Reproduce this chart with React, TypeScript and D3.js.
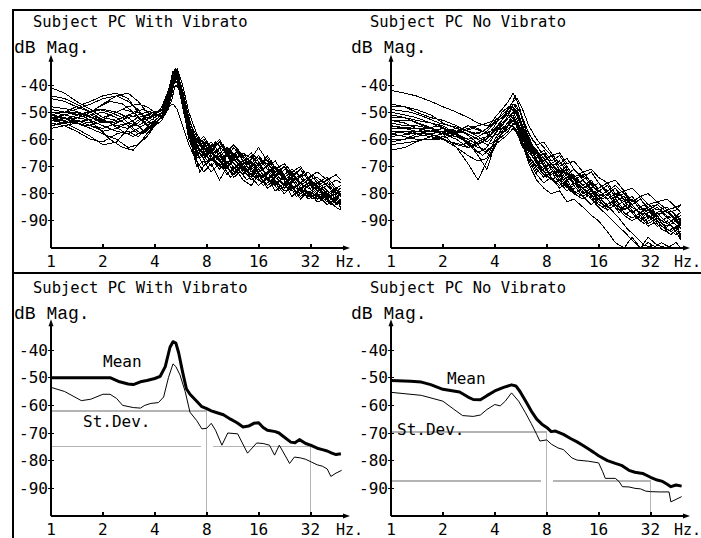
import React from "react";
import * as d3 from "d3";

// ---------- DATA ----------
const yTicks = [-40, -50, -60, -70, -80, -90];
const xTicks = [1, 2, 4, 8, 16, 32];
const titles = ["Subject PC With Vibrato", "Subject PC No Vibrato"];

// frequency grids (Hz) for individual spectra
const F = [1, 1.2, 1.4, 1.7, 2, 2.4, 2.8, 3.2, 3.6, 4, 4.4, 4.8, 5.1, 5.4, 5.8, 6.3, 7, 7.7, 8.5, 9.5, 10.5, 11.5, 13, 14.5, 16, 18, 20, 22.5, 25, 28, 31, 35, 40, 45, 48];
const F2 = [1, 1.3, 1.6, 1.9, 2.2, 2.6, 3, 3.4, 3.8, 4.2, 4.6, 5, 5.25, 5.6, 6, 6.6, 7.3, 8, 9, 10, 11, 12.2, 13.7, 15.2, 17, 19, 21, 23.5, 26.5, 29.5, 33, 37, 42, 46, 48];

// With vibrato: individual spectra (dB)
const vib01 = [-41,-43,-46,-49,-52,-53,-51,-50,-52,-51,-48,-42,-35,-38,-48,-58,-62,-60,-64,-61,-66,-63,-68,-65,-70,-67,-72,-70,-74,-71,-75,-74,-77,-75,-76];
const vib02 = [-45,-46,-48,-50,-47,-44,-43,-46,-50,-52,-50,-44,-36,-34,-44,-55,-60,-63,-61,-65,-63,-67,-65,-69,-66,-70,-68,-73,-71,-74,-72,-76,-74,-78,-77];
const vib03 = [-50,-50,-51,-50,-49,-50,-52,-55,-53,-50,-49,-43,-37,-38,-46,-56,-63,-65,-62,-66,-64,-62,-67,-70,-67,-71,-73,-70,-75,-73,-77,-76,-80,-78,-81];
const vib04 = [-52,-53,-52,-51,-53,-55,-54,-52,-51,-52,-50,-45,-36,-35,-43,-53,-59,-61,-66,-63,-69,-66,-70,-68,-72,-70,-74,-77,-74,-78,-76,-79,-81,-80,-83];
const vib05 = [-54,-55,-57,-60,-61,-58,-57,-59,-56,-54,-52,-46,-39,-37,-45,-57,-64,-67,-64,-68,-71,-67,-72,-74,-71,-75,-77,-74,-78,-80,-77,-82,-80,-84,-82];
const vib06 = [-56,-55,-54,-56,-58,-60,-63,-62,-59,-55,-51,-44,-38,-36,-42,-52,-61,-59,-63,-60,-65,-62,-66,-70,-67,-69,-72,-70,-73,-76,-74,-78,-76,-80,-79];
const vib07 = [-49,-50,-49,-47,-45,-44,-46,-49,-53,-55,-53,-47,-41,-40,-46,-54,-62,-66,-63,-61,-64,-68,-65,-67,-63,-68,-71,-69,-72,-70,-74,-72,-75,-73,-75];
const vib08 = [-51,-52,-53,-54,-52,-50,-48,-47,-48,-50,-52,-49,-40,-34,-40,-50,-58,-62,-65,-67,-63,-66,-69,-66,-70,-73,-70,-74,-72,-76,-74,-77,-75,-79,-78];
const vib09 = [-53,-54,-56,-59,-62,-61,-56,-53,-52,-53,-51,-45,-37,-36,-44,-55,-65,-70,-67,-71,-68,-72,-69,-73,-75,-72,-76,-74,-77,-79,-76,-80,-83,-81,-84];
const vib10 = [-50,-51,-52,-53,-55,-57,-58,-56,-54,-52,-50,-48,-47,-49,-55,-62,-68,-72,-69,-75,-70,-74,-71,-75,-73,-77,-75,-79,-78,-81,-79,-83,-82,-85,-86];
const vib11 = [-52,-51,-50,-52,-54,-53,-51,-52,-55,-53,-51,-44,-36,-37,-45,-57,-66,-63,-67,-70,-66,-69,-73,-70,-74,-72,-76,-78,-75,-79,-81,-78,-82,-80,-83];
const vib12 = [-44,-45,-47,-50,-53,-55,-56,-54,-51,-50,-49,-43,-35,-36,-47,-60,-67,-65,-68,-65,-70,-67,-71,-68,-73,-75,-72,-77,-79,-76,-80,-82,-79,-84,-82];
const vib13 = [-53,-53,-52,-51,-50,-52,-55,-58,-57,-54,-52,-46,-39,-39,-46,-58,-70,-68,-72,-69,-73,-70,-75,-77,-73,-78,-76,-80,-77,-82,-79,-81,-84,-82,-80];
const vib14 = [-51,-50,-48,-46,-44,-43,-45,-50,-52,-51,-49,-44,-38,-39,-48,-59,-63,-61,-65,-68,-65,-71,-68,-72,-70,-66,-71,-75,-73,-77,-75,-79,-77,-81,-80];
const vib15 = [-55,-54,-53,-55,-57,-56,-54,-55,-58,-55,-51,-45,-37,-38,-47,-57,-60,-64,-62,-66,-69,-65,-70,-73,-69,-74,-77,-73,-78,-76,-80,-77,-81,-83,-84];
const vib16 = [-52,-52,-53,-55,-56,-54,-52,-51,-50,-51,-52,-47,-38,-37,-43,-54,-62,-66,-70,-66,-70,-73,-70,-74,-77,-74,-79,-76,-81,-78,-82,-80,-84,-82,-85];
// (on grid F2)
const vib17 = [-48,-49,-51,-53,-54,-53,-50,-49,-50,-51,-49,-41,-35,-40,-50,-60,-64,-61,-65,-62,-67,-64,-69,-66,-71,-68,-73,-70,-75,-72,-77,-75,-78,-80,-79];
const vib18 = [-53,-52,-50,-49,-50,-52,-56,-58,-55,-52,-48,-39,-34,-39,-49,-59,-62,-66,-63,-67,-64,-68,-72,-69,-73,-76,-72,-77,-74,-78,-81,-78,-82,-84,-83];
const vib19 = [-51,-53,-55,-54,-51,-49,-50,-53,-56,-53,-50,-42,-36,-41,-51,-61,-67,-64,-68,-71,-67,-71,-68,-73,-76,-73,-78,-75,-80,-77,-79,-82,-80,-83,-85];
const vib20 = [-50,-50,-52,-56,-60,-63,-64,-60,-56,-53,-51,-44,-37,-40,-47,-56,-61,-65,-61,-64,-68,-65,-70,-72,-69,-73,-71,-75,-72,-76,-73,-77,-80,-78,-81];
const vib21 = [-55,-53,-51,-48,-46,-47,-50,-53,-52,-50,-49,-43,-38,-41,-49,-58,-65,-69,-66,-70,-74,-71,-75,-72,-77,-75,-79,-76,-81,-79,-82,-80,-84,-82,-86];
const vib22 = [-52,-54,-53,-52,-54,-57,-59,-57,-54,-52,-50,-46,-40,-42,-50,-62,-72,-68,-66,-69,-72,-69,-67,-71,-74,-71,-75,-78,-74,-78,-76,-79,-83,-81,-80];

// No vibrato: individual spectra (dB)
const nov01 = [-42,-43,-44,-46,-48,-50,-52,-54,-55,-54,-52,-49,-46,-45,-49,-55,-60,-63,-66,-65,-69,-68,-72,-71,-74,-76,-75,-79,-78,-81,-80,-83,-82,-85,-84];
const nov02 = [-47,-48,-50,-52,-53,-55,-57,-58,-56,-52,-49,-46,-43,-46,-52,-58,-62,-61,-65,-69,-67,-71,-74,-72,-76,-79,-77,-80,-83,-81,-84,-86,-85,-88,-87];
const nov03 = [-48,-48,-49,-51,-54,-56,-58,-60,-59,-55,-50,-48,-49,-51,-55,-60,-65,-68,-66,-70,-73,-71,-75,-78,-76,-80,-78,-82,-84,-82,-86,-84,-87,-89,-88];
const nov04 = [-50,-51,-52,-54,-56,-57,-56,-55,-54,-53,-51,-49,-48,-50,-56,-61,-64,-67,-70,-68,-72,-75,-73,-77,-79,-77,-81,-83,-81,-85,-87,-85,-89,-88,-90];
const nov05 = [-52,-52,-53,-54,-55,-58,-62,-65,-63,-58,-54,-52,-50,-53,-58,-62,-68,-72,-70,-74,-72,-76,-78,-76,-80,-82,-80,-84,-82,-86,-85,-88,-86,-90,-89];
const nov06 = [-53,-54,-56,-57,-57,-56,-57,-59,-61,-58,-55,-51,-47,-49,-55,-62,-66,-70,-73,-71,-75,-73,-77,-79,-81,-79,-83,-81,-85,-87,-85,-89,-91,-89,-92];
const nov07 = [-54,-55,-55,-56,-58,-60,-63,-62,-60,-57,-56,-54,-52,-54,-59,-64,-69,-67,-71,-74,-72,-77,-75,-79,-82,-80,-84,-86,-84,-88,-86,-90,-92,-90,-93];
const nov08 = [-55,-56,-57,-57,-56,-58,-61,-66,-71,-62,-58,-56,-55,-57,-61,-66,-71,-74,-72,-76,-79,-77,-81,-79,-83,-85,-83,-87,-89,-87,-91,-89,-93,-95,-94];
const nov09 = [-56,-56,-55,-56,-58,-63,-69,-75,-68,-62,-60,-58,-56,-58,-62,-68,-73,-76,-74,-78,-76,-80,-82,-80,-84,-86,-84,-88,-90,-88,-92,-90,-94,-92,-95];
const nov10 = [-57,-57,-58,-59,-60,-62,-63,-61,-59,-57,-55,-52,-51,-55,-62,-69,-75,-78,-80,-79,-83,-82,-85,-88,-90,-94,-98,-100,-96,-100,-98,-100,-100,-100,-100];
const nov11 = [-58,-59,-60,-60,-59,-58,-60,-62,-60,-56,-53,-50,-48,-51,-57,-64,-69,-72,-75,-73,-77,-80,-78,-82,-85,-88,-91,-94,-97,-100,-96,-99,-100,-98,-100];
const nov12 = [-58,-57,-57,-58,-60,-63,-66,-68,-67,-60,-56,-55,-55,-58,-63,-66,-70,-73,-71,-75,-78,-76,-80,-78,-82,-84,-82,-86,-84,-88,-86,-89,-91,-93,-96];
const nov13 = [-60,-60,-59,-58,-57,-57,-58,-60,-62,-61,-59,-57,-54,-55,-58,-63,-67,-65,-69,-72,-70,-74,-77,-75,-79,-77,-81,-80,-84,-82,-85,-84,-87,-86,-84];
const nov14 = [-61,-60,-58,-57,-58,-59,-60,-59,-57,-54,-52,-51,-52,-56,-61,-67,-72,-70,-74,-77,-75,-79,-81,-84,-82,-86,-84,-88,-86,-90,-88,-92,-90,-94,-97];
const nov15 = [-64,-63,-61,-59,-58,-59,-61,-63,-64,-62,-58,-55,-53,-55,-60,-65,-68,-71,-69,-73,-71,-75,-78,-76,-80,-82,-80,-84,-87,-85,-89,-87,-91,-93,-91];
const nov16 = [-51,-52,-54,-56,-58,-57,-55,-56,-58,-56,-54,-52,-51,-54,-57,-63,-66,-64,-68,-66,-70,-74,-72,-76,-78,-76,-80,-79,-83,-81,-84,-83,-86,-85,-87];
// (on grid F2)
const nov17 = [-49,-50,-52,-54,-55,-56,-58,-57,-55,-52,-50,-47,-47,-50,-56,-62,-66,-70,-68,-72,-75,-73,-77,-80,-78,-82,-80,-84,-86,-84,-88,-86,-90,-88,-91];
const nov18 = [-53,-53,-55,-57,-58,-57,-60,-64,-66,-60,-55,-52,-53,-57,-62,-65,-69,-67,-71,-75,-73,-77,-79,-82,-80,-84,-86,-84,-88,-90,-88,-92,-94,-92,-96];
const nov19 = [-55,-56,-56,-55,-57,-60,-62,-61,-58,-55,-53,-49,-50,-54,-59,-66,-71,-74,-72,-76,-79,-77,-81,-79,-83,-86,-89,-93,-96,-99,-100,-98,-100,-100,-100];
const nov20 = [-57,-58,-58,-59,-61,-62,-60,-58,-57,-55,-51,-47,-44,-49,-55,-60,-64,-67,-71,-69,-73,-76,-74,-78,-80,-78,-82,-85,-83,-87,-89,-87,-90,-92,-89];
const nov21 = [-59,-58,-56,-55,-57,-60,-63,-66,-63,-59,-57,-55,-54,-56,-61,-63,-67,-71,-69,-74,-72,-78,-76,-80,-82,-79,-84,-82,-86,-88,-86,-90,-88,-91,-93];
const nov22 = [-62,-61,-60,-60,-59,-57,-56,-57,-59,-58,-56,-53,-50,-52,-58,-64,-70,-73,-76,-74,-78,-81,-79,-83,-85,-83,-87,-85,-89,-91,-89,-93,-95,-93,-97];

// With vibrato: mean and st.dev curves
const vibMeanF = [1,1.5,2,2.2,2.5,2.8,3,3.3,3.6,4,4.3,4.6,4.9,5.1,5.3,5.5,5.8,6.1,6.4,7,7.5,8,8.5,9,10,11,12,13,14,15,16,17,18,20,21,22,24.6,26,27.6,30,32,35,37.5,40,42.6,45,48];
const vibMean = [-50,-50,-50,-50,-51.5,-52.3,-52.5,-51.5,-51,-50.3,-49.5,-46,-39,-37,-37.5,-41,-48,-54,-56,-58.5,-60.5,-61.2,-62,-62.5,-63.4,-65,-66.3,-67.8,-67.5,-66.5,-66.3,-68,-69,-69.5,-70,-71,-73.3,-73.5,-72.4,-73.8,-74.4,-75.5,-76,-76.5,-77.3,-77.8,-77.5];
const vibSdF = [1,1.2,1.5,1.7,2,2.2,2.4,2.6,3,3.3,3.5,3.8,4.2,4.5,4.8,5.1,5.3,5.6,6,6.4,7,7.5,8,8.5,9,9.8,10.6,12.1,13.8,15.6,17,18.5,19.8,21.1,24.2,25.8,28,30,32.4,35,37.5,40,42,45,48.5];
const vibSd = [-53.5,-55,-58.3,-57.8,-56,-56,-57.5,-60,-60.8,-61,-60,-59.3,-59,-57,-50,-45,-46,-49,-55,-62.5,-65.5,-68.5,-68.3,-66.5,-69,-74.4,-70,-70.3,-77.3,-73.6,-73.8,-74.4,-78,-74.4,-81,-78.7,-79,-79.5,-80.5,-81.5,-82,-83,-85.7,-84.5,-83.5];

// No vibrato: mean and st.dev curves
const novMeanF = [1,1.3,1.5,1.7,2,2.5,2.8,3,3.3,3.6,4,4.5,5,5.3,5.6,6,6.5,7,7.5,8,8.5,9,10,11,12,13,14,15,16,18,20,21.7,24,26,28.8,32,35,37.6,40,42,45,48.5];
const novMean = [-51,-51.3,-51.6,-52.5,-54.2,-55.2,-57,-57.9,-58,-56.5,-54.8,-53.5,-52.6,-53,-55,-58.2,-62,-65,-66.8,-68,-69.5,-69.3,-70.5,-72,-73.2,-74.5,-75.8,-77,-78.2,-80,-81,-81.7,-83.5,-84.2,-84.6,-86,-87,-87.5,-88.5,-89.4,-88.8,-89.2];
const novSdF = [1,1.5,2,2.3,2.6,3,3.3,3.6,4,4.3,4.6,5,5.5,6,6.5,7,7.3,8,8.5,9.3,10,11.2,12,14,16,16.9,17.5,20,21,22,24,26,28,30,32,36,41,42,45,48.5];
const novSd = [-55.3,-56.4,-58.5,-61.3,-63.7,-64,-63.5,-61.5,-59.7,-60.2,-58.5,-55.5,-58.5,-62.5,-66.5,-70.5,-72.9,-72.5,-74,-75.4,-76,-79,-79.8,-80.2,-80.8,-84,-86.4,-86.4,-87.5,-89.4,-89.5,-90,-90.2,-91,-91.2,-91.3,-91.3,-94.9,-94,-93];

// reference (grey) level lines: [dB level at 8 Hz, dB level at 32 Hz]
const vibRefLevels = [-62, -74.8];
const novRefLevels = [-69.7, -87.4];
const refFreqs = [8, 32];

const vibSpectraA = [vib01, vib02, vib03, vib04, vib05, vib06, vib07, vib08, vib09, vib10, vib11, vib12, vib13, vib14, vib15, vib16];
const vibSpectraB = [vib17, vib18, vib19, vib20, vib21, vib22];
const novSpectraA = [nov01, nov02, nov03, nov04, nov05, nov06, nov07, nov08, nov09, nov10, nov11, nov12, nov13, nov14, nov15, nov16];
const novSpectraB = [nov17, nov18, nov19, nov20, nov21, nov22];

// ---------- DRAWING ----------
const MONO = "'DejaVu Sans Mono', monospace";

type PanelProps = {
  ax: number;
  ay: number;
  yTop: number;
  titleX: number;
  titleY: number;
  title: string;
  hzX: number;
  children?: (x: any, y: any) => React.ReactNode;
};

function Panel({ ax, ay, yTop, titleX, titleY, title, hzX, children }: PanelProps) {
  const x = d3.scaleLog().base(2).domain([1, 32]).range([ax, ax + 259.5]);
  const y = d3.scaleLinear().domain([-100, -40]).range([ay, yTop]);
  const arrowTop = y(-100) - (y(-100) - y(-40)) * 1.185;
  const xEnd = ax + 299;
  return (
    <g>
      <text x={titleX} y={titleY} fontFamily={MONO} fontSize={15.5}>{title}</text>
      <text x={titleX - 19} y={titleY + 26} fontFamily="'Liberation Mono', monospace" fontSize={18}>dB Mag.</text>
      {children && children(x, y)}
      <line x1={ax} x2={ax} y1={ay} y2={arrowTop + 4} stroke="#000" strokeWidth={2} shapeRendering="crispEdges" />
      <path d={`M${ax},${arrowTop} L${ax - 2.5},${arrowTop + 7} L${ax + 2.5},${arrowTop + 7} Z`} fill="#000" />
      <line x1={ax} x2={xEnd - 4} y1={ay} y2={ay} stroke="#000" strokeWidth={2} shapeRendering="crispEdges" />
      <path d={`M${xEnd},${ay} L${xEnd - 7},${ay - 2.5} L${xEnd - 7},${ay + 2.5} Z`} fill="#000" />
      {yTicks.map((t) => (
        <g key={t}>
          <line x1={ax - 3} x2={ax + 3} y1={y(t)} y2={y(t)} stroke="#000" strokeWidth={1} shapeRendering="crispEdges" />
          <text x={ax - 3} y={y(t) + 5.5} textAnchor="end" fontFamily={MONO} fontSize={16}>{t}</text>
        </g>
      ))}
      {xTicks.map((t) => (
        <g key={t}>
          {t !== 1 && <line x1={x(t)} x2={x(t)} y1={ay - 4} y2={ay} stroke="#000" strokeWidth={2} shapeRendering="crispEdges" />}
          <text x={x(t)} y={ay + 19} textAnchor="middle" fontFamily={MONO} fontSize={16}>{t}</text>
        </g>
      ))}
      <text x={hzX} y={ay + 19} fontFamily={MONO} fontSize={15}>Hz.</text>
    </g>
  );
}

function spaghetti(series: number[][], grid: number[], x: any, y: any) {
  const line = d3
    .line<number>()
    .x((_, i) => x(grid[i]))
    .y((v) => y(Math.max(-100, v)));
  return series.map((s, i) => (
    <path key={i} d={line(s) || ""} fill="none" stroke="#000" strokeWidth={1} shapeRendering="crispEdges" />
  ));
}

function curve(fs: number[], vs: number[], x: any, y: any, w: number) {
  const line = d3
    .line<number>()
    .x((_, i) => x(fs[i]))
    .y((v) => y(v));
  return <path d={line(vs) || ""} fill="none" stroke="#000" strokeWidth={w} strokeLinejoin="round" />;
}

function refLines(levels: number[], x: any, y: any, ax: number) {
  const x8 = x(refFreqs[0]);
  const x32 = x(refFreqs[1]);
  const ay = y(-100);
  return (
    <g stroke="#b4b4b4" strokeWidth={1.5} shapeRendering="crispEdges">
      <line x1={ax} x2={x8} y1={y(levels[0])} y2={y(levels[0])} />
      <line x1={x8} x2={x8} y1={y(levels[0])} y2={ay} />
      <line x1={ax} x2={x8 - 6} y1={y(levels[1])} y2={y(levels[1])} />
      <line x1={x8 + 6} x2={x32} y1={y(levels[1])} y2={y(levels[1])} />
      <line x1={x32} x2={x32} y1={y(levels[1])} y2={ay} />
    </g>
  );
}

export default function App() {
  return (
    <svg width={701} height={538} style={{ position: "absolute", left: 0, top: 0, background: "#fff" }}>
      <rect x={0} y={0} width={701} height={538} fill="#fff" />
      <g stroke="#000" strokeWidth={2} shapeRendering="crispEdges">
        <line x1={13} x2={701} y1={10} y2={10} />
        <line x1={13} x2={13} y1={9} y2={538} />
        <line x1={13} x2={701} y1={273} y2={273} />
      </g>

      <Panel ax={51} ay={248} yTop={85} titleX={33} titleY={27} title={titles[0]} hzX={336}>
        {(x, y) => (
          <g>
            {spaghetti(vibSpectraA, F, x, y)}
            {spaghetti(vibSpectraB, F2, x, y)}
          </g>
        )}
      </Panel>
      <Panel ax={391} ay={248} yTop={85} titleX={370} titleY={27} title={titles[1]} hzX={674}>
        {(x, y) => (
          <g>
            {spaghetti(novSpectraA, F, x, y)}
            {spaghetti(novSpectraB, F2, x, y)}
          </g>
        )}
      </Panel>

      <Panel ax={51} ay={516} yTop={350} titleX={33} titleY={293} title={titles[0]} hzX={336}>
        {(x, y) => (
          <g>
            {refLines(vibRefLevels, x, y, 51)}
            {curve(vibSdF, vibSd, x, y, 1)}
            {curve(vibMeanF, vibMean, x, y, 3)}
            <text x={103} y={367} fontFamily={MONO} fontSize={16}>Mean</text>
            <text x={83} y={427} fontFamily={MONO} fontSize={16}>St.Dev.</text>
          </g>
        )}
      </Panel>
      <Panel ax={391} ay={516} yTop={350} titleX={370} titleY={293} title={titles[1]} hzX={674}>
        {(x, y) => (
          <g>
            {refLines(novRefLevels, x, y, 391)}
            {curve(novSdF, novSd, x, y, 1)}
            {curve(novMeanF, novMean, x, y, 3)}
            <text x={447} y={384} fontFamily={MONO} fontSize={16}>Mean</text>
            <text x={397} y={435} fontFamily={MONO} fontSize={16}>St.Dev.</text>
          </g>
        )}
      </Panel>
    </svg>
  );
}
